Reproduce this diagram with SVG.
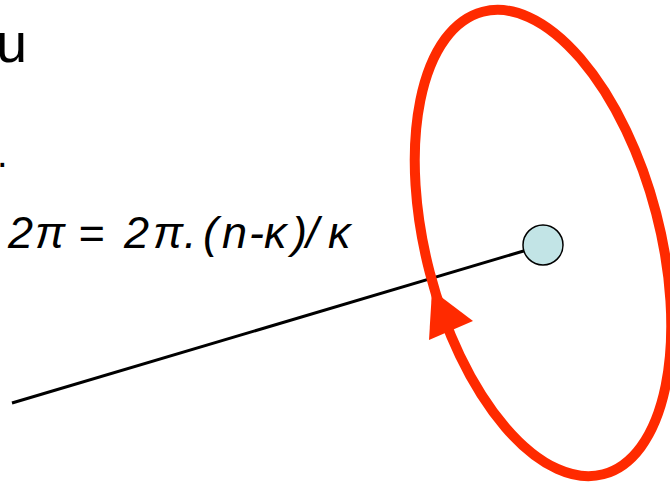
<svg xmlns="http://www.w3.org/2000/svg" width="670" height="483" viewBox="0 0 670 483">
<style>
.t{font-family:"Liberation Sans",Arial,Helvetica,sans-serif;fill:#000}
.red{fill:none;stroke:#ff2a00;stroke-width:10}
</style>
<rect width="670" height="483" fill="#fff"/>
<text class="t" x="-4" y="62" font-size="56">u</text>
<text class="t" x="-3" y="167" font-size="38">.</text>
<text class="t" x="8 35 62 78 112 124 153 184 203 222 249 264 292 306 328" y="248" font-size="45" font-style="italic">2π = 2π.(n-κ)/κ</text>
<g id="connectors">
<line x1="12" y1="403" x2="527" y2="250" stroke="#000" stroke-width="3"/>
</g>
<g id="loop">
<ellipse class="red" cx="543" cy="243" rx="239" ry="117" transform="rotate(75.4 543 243)"/>
<polygon points="432,290 429,340 473,321" fill="#ff2a00"/>
</g>
<g id="node">
<circle cx="543" cy="245" r="20" fill="#c2e4e6" stroke="#000" stroke-width="1.5"/>
</g>
</svg>
